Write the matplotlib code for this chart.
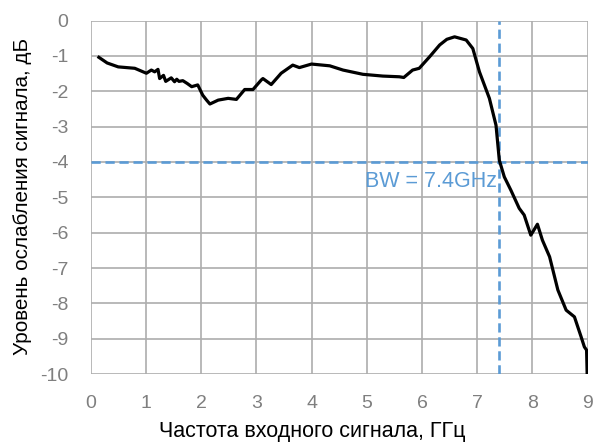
import matplotlib
matplotlib.use("Agg")
import matplotlib.pyplot as plt

freq = [0.15, 0.30, 0.50, 0.80, 1.01, 1.10, 1.16, 1.22, 1.25, 1.32, 1.36, 1.40, 1.46, 1.52, 1.56, 1.60, 1.67,
        1.75, 1.83, 1.94, 2.03, 2.10, 2.16, 2.31, 2.49, 2.64, 2.79, 2.94, 3.09, 3.12,
        3.27, 3.45, 3.66, 3.78, 4.00, 4.33, 4.57, 4.93, 5.29, 5.59, 5.67, 5.83, 5.95,
        6.14, 6.32, 6.45, 6.59, 6.80, 6.92, 7.04, 7.22, 7.34, 7.40, 7.49, 7.61, 7.76,
        7.85, 7.97, 8.09, 8.18, 8.31, 8.46, 8.61, 8.76, 8.88, 8.94, 8.98, 8.99]
atten = [-1.04, -1.20, -1.31, -1.35, -1.49, -1.40, -1.45, -1.38, -1.64, -1.55, -1.72, -1.68, -1.62, -1.73, -1.66, -1.72, -1.70,
         -1.78, -1.87, -1.82, -2.11, -2.25, -2.36, -2.25, -2.20, -2.23, -1.95, -1.95, -1.68, -1.64,
         -1.81, -1.49, -1.26, -1.33, -1.23, -1.28, -1.40, -1.52, -1.57, -1.59, -1.61, -1.40, -1.35,
         -1.02, -0.69, -0.53, -0.46, -0.55, -0.79, -1.45, -2.20, -2.96, -3.95, -4.42, -4.80, -5.31,
         -5.50, -6.07, -5.76, -6.21, -6.68, -7.62, -8.19, -8.38, -8.94, -9.23, -9.32, -9.98]

x_ticks = [0, 1, 2, 3, 4, 5, 6, 7, 8, 9]
y_ticks = [0, -1, -2, -3, -4, -5, -6, -7, -8, -9, -10]
y_tick_labels = ["0", "-1", "-2", "-3", "-4", "-5", "-6", "-7", "-8", "-9", "-10"]
bw_freq = 7.4
bw_level = -4

plt.rcParams['font.family'] = ['Liberation Sans', 'DejaVu Sans']

fig = plt.figure(figsize=(6.04, 4.47), dpi=100)
ax = fig.add_axes([0.150, 0.163, 0.823, 0.791])

ax.set_xlim(0, 9)
ax.set_ylim(-10, 0)
ax.set_xticks(x_ticks)
ax.set_xticklabels([str(t) for t in x_ticks])
ax.set_yticks(y_ticks)
ax.set_yticklabels(y_tick_labels)
ax.grid(True, color='#adadad', linewidth=1.2)
ax.set_axisbelow(True)
for s in ax.spines.values():
    s.set_visible(False)
ax.tick_params(length=0, labelsize=14, labelcolor='#7f7f7f', pad=16)
ax.tick_params(axis='x', pad=15)

ax.axhline(bw_level, color='#5b9bd5', linewidth=1.9, linestyle=(0, (3.5, 1.8)), zorder=3)
ax.axvline(bw_freq, color='#5b9bd5', linewidth=1.9, linestyle=(0, (3.5, 1.8)), zorder=3)

ax.plot(freq, atten, color='black', linewidth=2.3, zorder=4, solid_joinstyle='round')

ax.text(bw_freq - 0.04, bw_level - 0.55, "BW = 7.4GHz", color='#5b9bd5', fontsize=15.5,
        ha='right', va='center', zorder=5)

fig.text(23 / 604, 1 - 196 / 447, "Уровень ослабления сигнала, дБ", fontsize=14.9,
         color='black', rotation=90, ha='center', va='center')
fig.text(312 / 604, 1 - 431 / 447, "Частота входного сигнала, ГГц", fontsize=15.5,
         color='black', ha='center', va='center')

fig.savefig("out.png", dpi=100, facecolor='white')
